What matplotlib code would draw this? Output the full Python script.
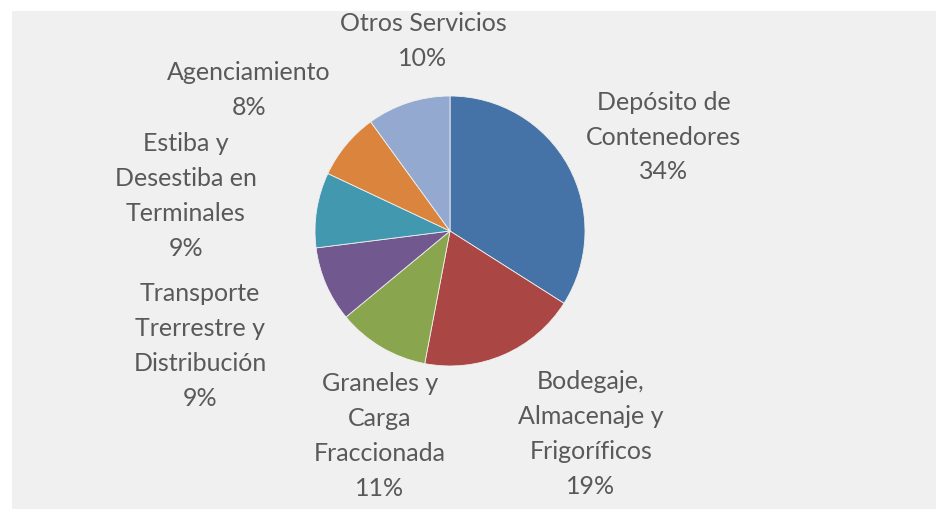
import matplotlib
matplotlib.use('Agg')
import matplotlib.pyplot as plt
from matplotlib.patches import Rectangle

labels = ['Depósito de\nContenedores', 'Bodegaje,\nAlmacenaje y\nFrigoríficos',
          'Graneles y\nCarga\nFraccionada', 'Transporte\nTrerrestre y\nDistribución',
          'Estiba y\nDesestiba en\nTerminales', 'Agenciamiento', 'Otros Servicios']
shares = [34, 19, 11, 9, 9, 8, 10]
colors = ['#4572A7', '#AA4643', '#89A54E', '#71588F', '#4198AF', '#DB843D', '#93A9CF']

# label centres in pixels (top-left origin)
label_pos = [(664, 137), (591, 434), (380, 436), (200, 346), (186, 196), (249, 90), (423, 41)]

W, H = 937, 509
fig = plt.figure(figsize=(W / 100, H / 100), dpi=100)
fig.patch.set_facecolor('white')
ax = fig.add_axes([0, 0, 1, 1])
ax.add_patch(Rectangle((12, -5), W, H - 6, facecolor='#F0F0F0', edgecolor='none', zorder=0))

ax.pie(shares, colors=colors, startangle=90, counterclock=False,
       center=(450, H - 231), radius=135,
       wedgeprops=dict(edgecolor='#F0F0F0', linewidth=0.6))

for lab, val, (x, y) in zip(labels, shares, label_pos):
    ax.text(x, H - y, f'{lab}\n{val}%', ha='center', va='center', color='#595959',
            fontsize=18, family='Lato', linespacing=1.62)

ax.set_xlim(0, W)
ax.set_ylim(0, H)
ax.set_aspect('equal')
ax.axis('off')
fig.savefig('out.png', dpi=100)
